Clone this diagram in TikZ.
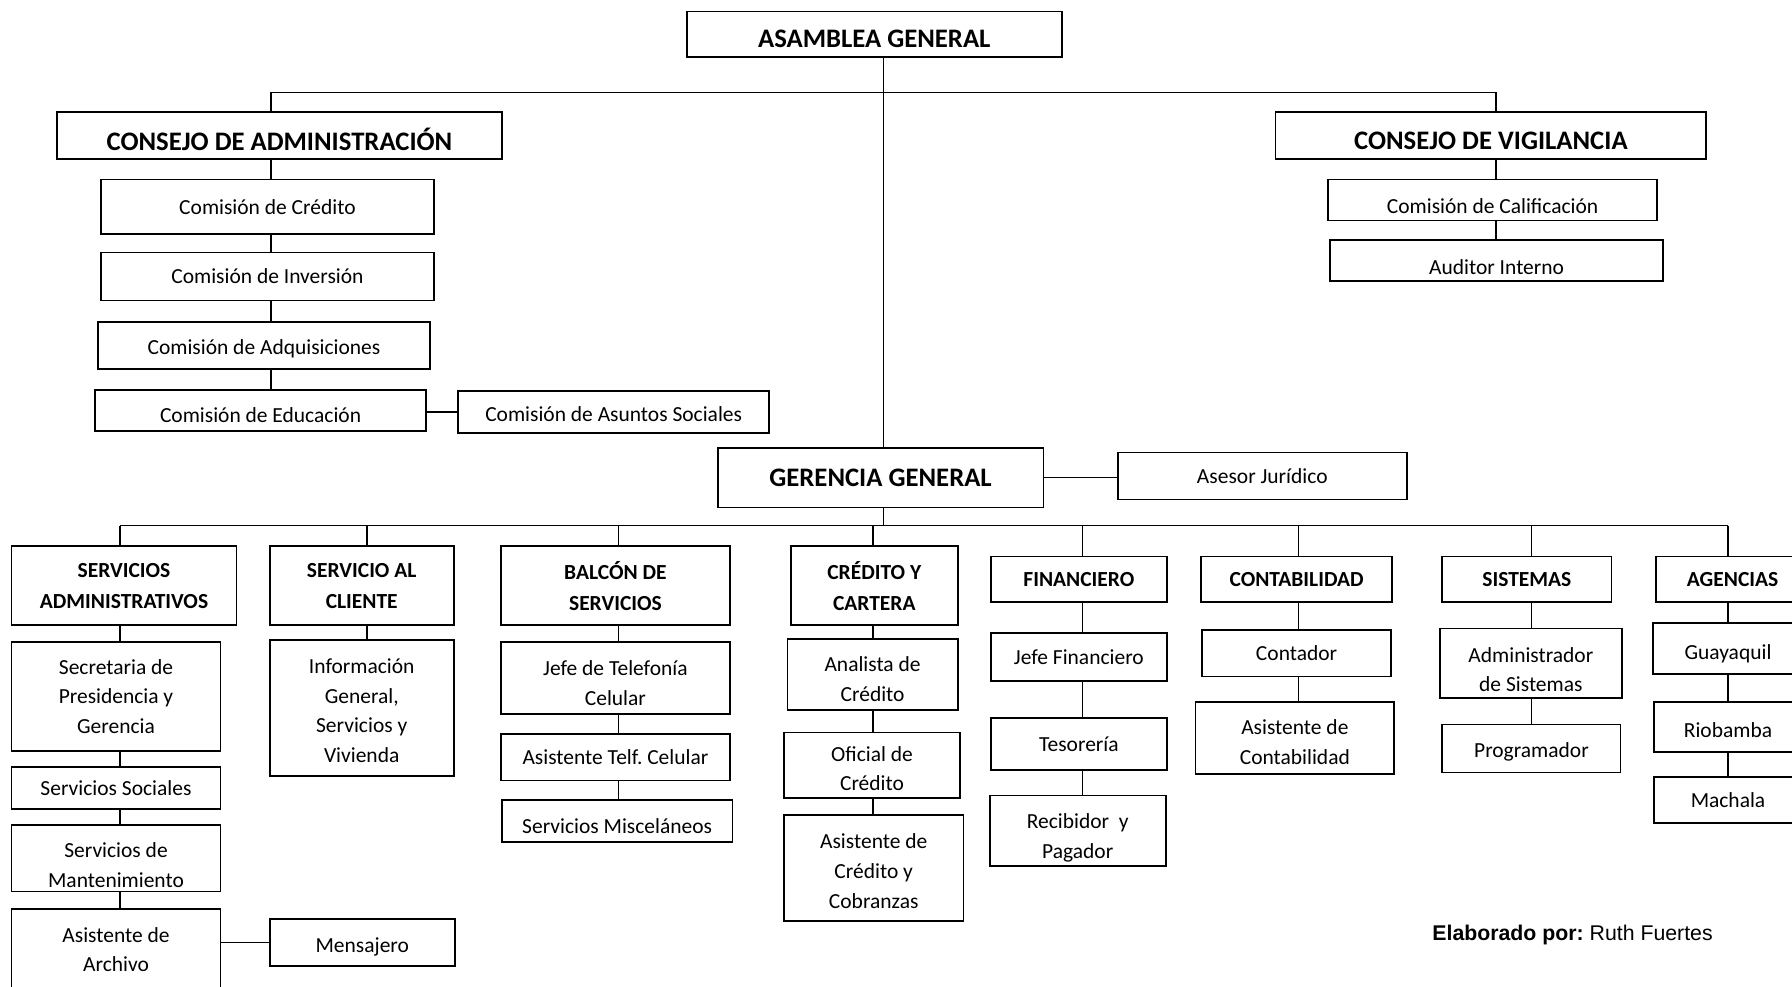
\documentclass[tikz,border=0pt]{standalone}
\usepackage{fontspec}
\setmainfont{Carlito}
\newfontfamily\arialfont{Liberation Sans}
\usetikzlibrary{backgrounds}
\frenchspacing

\tikzset{
    caja/.style 2 args={draw, line width=0.9pt, fill=white, inner sep=0pt, align=center,
        minimum width=#1*0.2mm, minimum height=#2*0.2mm, font=\fontsize{10.7}{14.8}\selectfont},
    cabeza/.style 2 args={caja={#1}{#2}, font=\fontsize{10.7}{15.4}\selectfont\bfseries},
    jefe/.style 2 args={caja={#1}{#2}, font=\fontsize{13.3}{16}\selectfont\bfseries},
    baja/.style={text height=#1},
    linea/.style={line width=0.7pt}
}

\begin{document}
\begin{tikzpicture}[x=0.02cm, y=-0.02cm]
    % Rahmen des Bildes
    \useasboundingbox (0,0) rectangle (1568,863);
    \clip (0,0) rectangle (1568,863);

    % Asamblea, consejos y gerencia
    \node[jefe={328}{40}, baja=13.2pt] (ag) at (765,30) {ASAMBLEA GENERAL};
    \node[jefe={389}{41}, baja=15.2pt] (ca) at (244.5,118.5) {CONSEJO DE ADMINISTRACIÓN};
    \node[jefe={377}{41}, baja=14.3pt] (cv) at (1304.5,118.5) {CONSEJO DE VIGILANCIA};
    \node[jefe={285}{52}] (gg) at (770.5,418) {GERENCIA GENERAL};
    \node[caja={253}{41}] (aj) at (1104.5,416.5) {Asesor Jurídico};

    % Comisiones
    \node[caja={292}{48}] (cred) at (234,181) {Comisión de Crédito};
    \node[caja={292}{42}] (inv) at (234,242) {Comisión de Inversión};
    \node[caja={290}{41}, baja=10.9pt] (adq) at (231,302.5) {Comisión de Adquisiciones};
    \node[caja={290}{36}, baja=12.1pt] (edu) at (228,359) {Comisión de Educación};
    \node[caja={272}{37}, baja=10pt] (soc) at (537,360.5) {Comisión de Asuntos Sociales};
    \node[caja={288}{36}, baja=13.2pt] (cal) at (1306,175) {Comisión de Calificación};
    \node[caja={291}{36}, baja=14.3pt] (aud) at (1309.5,228) {Auditor Interno};

    % Departamentos
    \node[cabeza={197}{69}] (sa) at (108.5,512.5) {SERVICIOS\\ADMINISTRATIVOS};
    \node[cabeza={161}{69}] (sc) at (316.5,512.5) {SERVICIO AL\\CLIENTE};
    \node[cabeza={201}{69}] (bs) at (538.5,512.5) {BALCÓN DE\\SERVICIOS};
    \node[cabeza={146}{69}] (cc) at (765,512.5) {CRÉDITO Y\\CARTERA};
    \node[cabeza={154}{40}] (fi) at (944,507) {FINANCIERO};
    \node[cabeza={167}{40}] (co) at (1134.5,507) {CONTABILIDAD};
    \node[cabeza={148}{40}] (si) at (1336,507) {SISTEMAS};
    \node[cabeza={134}{40}] (agen) at (1516,507) {AGENCIAS};

    % Servicios administrativos
    \node[caja={183}{95}] (secr) at (101.5,609.5) {Secretaria de\\Presidencia y\\Gerencia};
    \node[caja={183}{37}] (ssoc) at (101.5,689.5) {Servicios Sociales};
    \node[caja={183}{58}, baja=29.1pt] (mant) at (101.5,751) {Servicios de\\Mantenimiento};
    \node[caja={183}{72}] (arch) at (101.5,831) {Asistente de\\Archivo};
    \node[caja={162}{41}, baja=12.1pt] (men) at (317,824.5) {Mensajero};

    % Servicio al cliente y balcon
    \node[caja={161}{119}, baja=54.5pt] (info) at (316.5,619.5) {Información\\General,\\Servicios y\\Vivienda};
    \node[caja={201}{63}, baja=26.9pt] (tel) at (538.5,593.5) {Jefe de Telefonía\\Celular};
    \node[caja={201}{41}] (atel) at (538.5,662.5) {Asistente Telf. Celular};
    \node[caja={202}{37}, baja=12.1pt] (misc) at (540,718.5) {Servicios Misceláneos};

    % Credito y cartera
    \node[caja={149}{62}, baja=26.9pt] (anal) at (763.5,590) {Analista de\\Crédito};
    \node[caja={154}{57}, baja=25.7pt] (ofic) at (763,669.5) {Oficial de\\Crédito};
    \node[caja={157}{93}, baja=40pt] (cobr) at (764.5,759.5) {Asistente de\\Crédito y\\Cobranzas};

    % Financiero
    \node[caja={154}{42}] (jfin) at (944,575) {Jefe Financiero};
    \node[caja={154}{46}] (teso) at (944,651) {Tesorería};
    \node[caja={154}{62}, baja=29.1pt] (reci) at (943,727) {Recibidor~ y\\Pagador};

    % Contabilidad y sistemas
    \node[caja={165}{41}] (cont) at (1134.5,571.5) {Contador};
    \node[caja={174}{63}, baja=26.9pt] (acon) at (1133,645.5) {Asistente de\\Contabilidad};
    \node[caja={159}{61}, baja=28.5pt] (adsi) at (1339.5,580.5) {Administrador\\de Sistemas};
    \node[caja={156}{42}, baja=10.9pt] (prog) at (1340,655) {Programador};

    % Agencias
    \node[caja={132}{45}, baja=12.1pt] (guay) at (1512,567.5) {Guayaquil};
    \node[caja={130}{44}, baja=10.9pt] (rio) at (1512,636) {Riobamba};
    \node[caja={130}{40}] (mach) at (1512,700) {Machala};

    \node[anchor=west, inner sep=0pt, font=\arialfont\fontsize{10.6}{12}\selectfont] (firma) at (1253,818)
        {\textbf{Elaborado por:} Ruth Fuertes};

    % Ejes y barras
    \coordinate (eje) at (773,0);
    \coordinate (t1) at (237,81);
    \coordinate (t2) at (1309,81);
    \coordinate (b1) at (105,460);
    \coordinate (b2) at (321,460);
    \coordinate (b3) at (541,460);
    \coordinate (b4) at (764,460);
    \coordinate (b5) at (947,460);
    \coordinate (b6) at (1136,460);
    \coordinate (b7) at (1340,460);
    \coordinate (b8) at (1512,460);

    % Lineas detras de las cajas
    \begin{scope}[on background layer]
        \draw[linea] (ag.south -| eje) -- (b1 -| eje);
        \draw[linea] (edu.north -| t1) -- (t1) -- (t2) -- (aud.north -| t2);
        \draw[linea] (soc.west -| edu.east) -- (soc.west);
        \draw[linea] (gg.east) -- (gg.east -| aj.west);
        \draw[linea] (b1) -- (b8);
        \foreach \b/\u in {b1/arch, b2/info, b3/misc, b4/cobr, b5/reci, b6/acon, b7/prog, b8/mach}
            \draw[linea] (\b) -- (\u.north -| \b);
        \draw[linea] (men.west -| arch.east) -- (men.west);
    \end{scope}
\end{tikzpicture}
\end{document}
